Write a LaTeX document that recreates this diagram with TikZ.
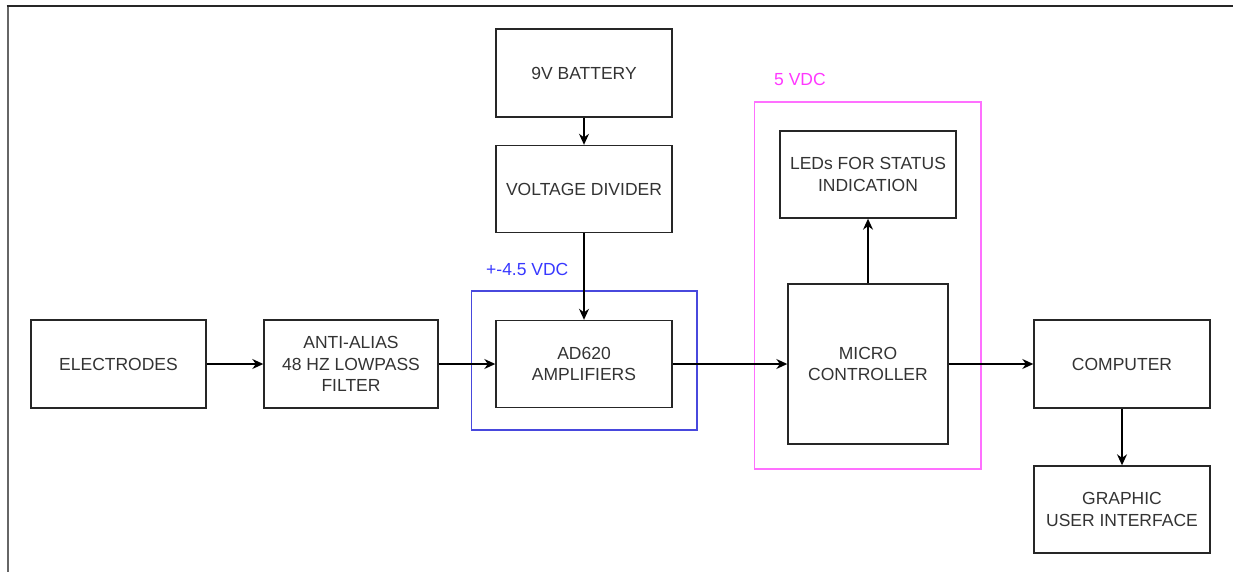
\documentclass[tikz,border=0pt]{standalone}
\usepackage{fontspec}
\setmainfont{Liberation Sans}
\usetikzlibrary{arrows.meta}
\definecolor{txt}{HTML}{333333}
\definecolor{bluebox}{HTML}{4848DD}
\definecolor{bluetxt}{HTML}{3838FF}
\definecolor{pinkbox}{HTML}{FF70FF}
\definecolor{pinktxt}{HTML}{FF38FF}
\tikzset{
  blk/.style={draw=black!85, line width=1.4pt, rectangle, align=center, text=txt,
    font=\fontsize{17.5}{21.5}\selectfont, inner sep=0pt},
  conn/.style={line width=1.5pt, draw=black, -{Stealth[length=11pt,width=10pt]}},
  lbl/.style={anchor=west, inner sep=0pt, font=\fontsize{17.5}{21.5}\selectfont}
}
\begin{document}
\begin{tikzpicture}[x=1pt,y=1pt]
\useasboundingbox (0,0) rectangle (1233,-572);
% frame
\draw[line width=2pt, draw=black!60] (7.5,-6) -- (7.5,-572);
\draw[line width=1.6pt, draw=black!85] (6.5,-6) -- (1233,-6);
% group boxes
\draw[line width=1.4pt, draw=bluebox] (471.5,-291) rectangle (697,-430);
\node[lbl, text=bluetxt] (lblblue) at (486,-269) {+-4.5 VDC};
\draw[line width=1.4pt, draw=pinkbox] (754.5,-102) rectangle (981,-469);
\node[lbl, text=pinktxt] (lblpink) at (774,-79) {5 VDC};
% blocks
\node[blk, minimum width=175, minimum height=88] (elec) at (118.5,-364) {ELECTRODES};
\node[blk, minimum width=174, minimum height=88] (anti) at (351,-364) {ANTI-ALIAS\\48 HZ LOWPASS\\FILTER};
\node[blk, minimum width=176, minimum height=87] (amp) at (584,-364) {AD620\\AMPLIFIERS};
\node[blk, minimum width=176, minimum height=88] (batt) at (584,-73) {9V BATTERY};
\node[blk, minimum width=176, minimum height=87] (div) at (584,-189) {VOLTAGE DIVIDER};
\node[blk, minimum width=176, minimum height=87] (leds) at (868,-174.5) {LEDs FOR STATUS\\INDICATION};
\node[blk, minimum width=160, minimum height=160] (mcu) at (868,-364) {MICRO\\CONTROLLER};
\node[blk, minimum width=176, minimum height=88] (comp) at (1122,-364) {COMPUTER};
\node[blk, minimum width=176, minimum height=87] (gui) at (1122,-509.5) {GRAPHIC\\USER INTERFACE};
% connectors
\draw[conn] (elec.east) -- (anti.west);
\draw[conn] (anti.east) -- (amp.west);
\draw[conn] (amp.east) -- (mcu.west);
\draw[conn] (mcu.east) -- (comp.west);
\draw[conn] (batt.south) -- (div.north);
\draw[conn] (div.south) -- (amp.north);
\draw[conn] (mcu.north) -- (leds.south);
\draw[conn] (comp.south) -- (gui.north);
\end{tikzpicture}
\end{document}
